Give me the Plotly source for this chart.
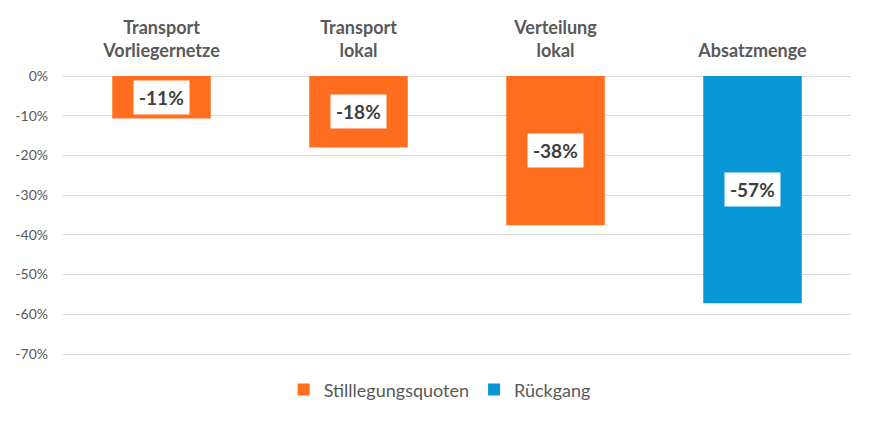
import plotly.graph_objects as go

categories = ["Transport<br>Vorliegernetze", "Transport<br>lokal", "Verteilung<br>lokal", "Absatzmenge"]
stilllegung_vals = [-0.107, -0.180, -0.376, None]
rueckgang_vals = [None, None, None, -0.572]
label_texts = ["-11%", "-18%", "-38%", "-57%"]
y_ticks = [0, -0.1, -0.2, -0.3, -0.4, -0.5, -0.6, -0.7]
y_tick_text = ["0%", "-10%", "-20%", "-30%", "-40%", "-50%", "-60%", "-70%"]

ORANGE = "#FF6D1F"
BLUE = "#0797D6"
GRAY = "#595959"
FONT = "Lato"

fig = go.Figure()
fig.add_trace(go.Bar(x=categories, y=stilllegung_vals, name="Stilllegungsquoten",
                     marker=dict(color=ORANGE, line=dict(width=0))))
fig.add_trace(go.Bar(x=categories, y=rueckgang_vals, name="Rückgang",
                     marker=dict(color=BLUE, line=dict(width=0))))

all_vals = [a if a is not None else b for a, b in zip(stilllegung_vals, rueckgang_vals)]
for cat, v, t in zip(categories, all_vals, label_texts):
    fig.add_annotation(x=cat, y=v / 2, text="<b>" + t + "</b>", showarrow=False,
                       bgcolor="white", borderpad=5,
                       font=dict(family=FONT, size=19, color="#404040"))

fig.update_layout(
    width=881, height=429,
    margin=dict(l=63, r=30, t=76, b=73),
    paper_bgcolor="white", plot_bgcolor="white",
    barmode="relative", bargap=0.5,
    font=dict(family=FONT, color=GRAY),
    showlegend=True,
    legend=dict(orientation="h", x=0.478, xanchor="center", y=-0.121, yanchor="middle",
                font=dict(size=18, color=GRAY), itemwidth=30, traceorder="normal"),
    xaxis=dict(side="top", showgrid=False, showline=False, ticks="",
               tickfont=dict(family=FONT, size=18, color=GRAY),
               ticklabelstandoff=14),
    yaxis=dict(range=[-0.705, 0.0], tickvals=y_ticks, ticktext=y_tick_text,
               showgrid=True, gridcolor="#D9D9D9", gridwidth=1,
               zeroline=True, zerolinecolor="#D9D9D9", zerolinewidth=1,
               showline=False, ticks="", ticklabelstandoff=14,
               tickfont=dict(family=FONT, size=14, color=GRAY)),
)
fig.update_xaxes(tickprefix="<b>", ticksuffix="</b>")

fig.write_html("out.html")
